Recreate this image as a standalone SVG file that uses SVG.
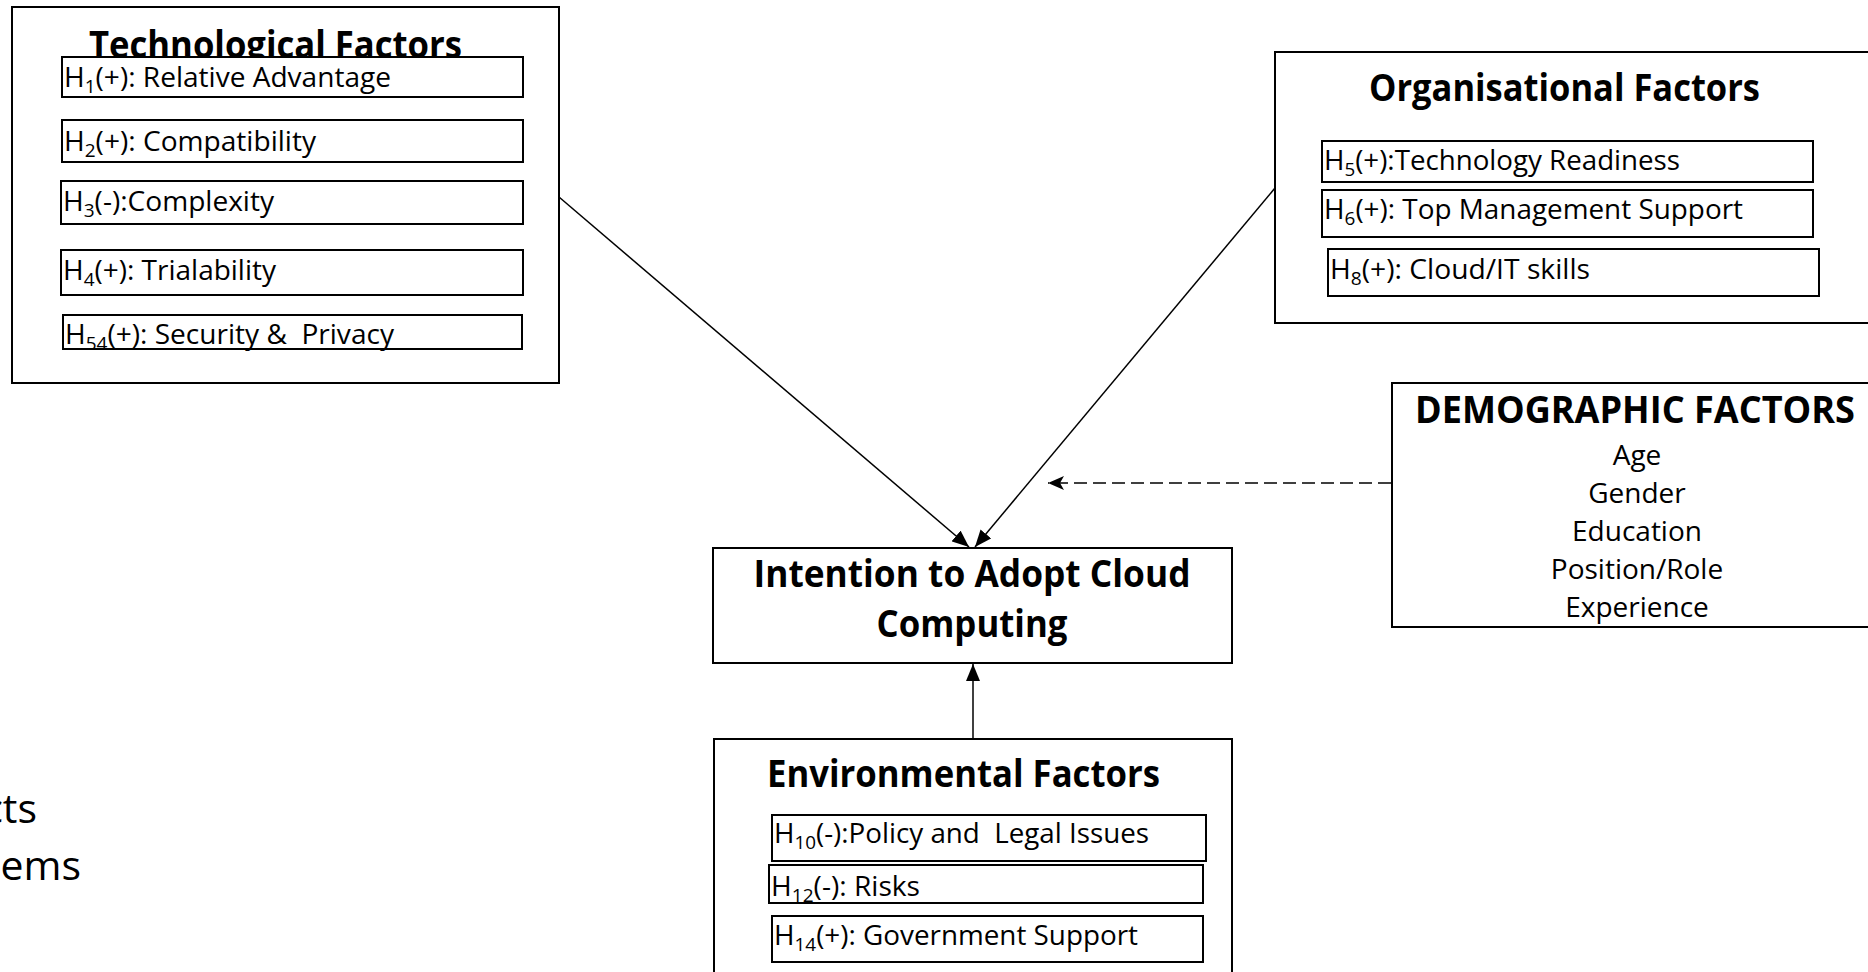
<svg xmlns="http://www.w3.org/2000/svg" width="1868" height="972" viewBox="0 0 1868 972">
  <defs>
    <style>
      .frame { fill: #ffffff; stroke: #000000; stroke-width: 2; }
      .item { fill: #ffffff; stroke: #000000; stroke-width: 2; }
      .title { font-family: "Open Sans", "Noto Sans", sans-serif; font-weight: 700; font-size: 38px; fill: #000000; }
      .label { font-family: "Open Sans", "Noto Sans", sans-serif; font-size: 28px; fill: #000000; }
      .big { font-family: "Open Sans", "Noto Sans", sans-serif; font-size: 41px; fill: #000000; }
      .sub { font-size: 19px; }
      .link { fill: none; stroke: #000000; stroke-width: 1.5; }
      .dashed { fill: none; stroke: #000000; stroke-width: 1.5; stroke-dasharray: 13 6; }
    </style>
    <marker id="arrow-solid" markerUnits="userSpaceOnUse" markerWidth="18" markerHeight="14" refX="17" refY="7" orient="auto">
      <path d="M0,0 L17,7 L0,14 Z" fill="#000000"/>
    </marker>
    <marker id="arrow-open" markerUnits="userSpaceOnUse" markerWidth="18" markerHeight="16" refX="16" refY="8" orient="auto">
      <path d="M0,1 L16,8 L0,15 L4,8 Z" fill="#000000"/>
    </marker>
  </defs>

  <rect width="1868" height="972" fill="#ffffff"/>

  <!-- partial slide text at the left margin -->
  <g id="margin-text">
    <text class="big" x="37" y="823" text-anchor="end">cts</text>
    <text class="big" x="81" y="880" text-anchor="end">ems</text>
  </g>

  <g id="connectors">
    <line class="link" x1="559" y1="197" x2="969" y2="547" marker-end="url(#arrow-solid)"/>
    <line class="link" x1="1275" y1="188" x2="975" y2="547" marker-end="url(#arrow-solid)"/>
    <line class="link" x1="973" y1="739" x2="973" y2="664" marker-end="url(#arrow-solid)"/>
    <line class="dashed" x1="1391" y1="483" x2="1048" y2="483" marker-end="url(#arrow-open)"/>
  </g>

  <g id="technological-factors">
    <rect class="frame" x="12" y="7" width="547" height="376"/>
    <text class="title" x="89" y="58" textLength="373" lengthAdjust="spacingAndGlyphs">Technological Factors</text>
    <rect class="item" x="62" y="57" width="461" height="40"/>
    <text class="label" x="64" y="87" textLength="327" lengthAdjust="spacingAndGlyphs">H<tspan class="sub" dy="6">1</tspan><tspan dy="-6">(+): Relative Advantage</tspan></text>
    <rect class="item" x="62" y="120" width="461" height="42"/>
    <text class="label" x="64" y="151" textLength="252" lengthAdjust="spacingAndGlyphs">H<tspan class="sub" dy="6">2</tspan><tspan dy="-6">(+): Compatibility</tspan></text>
    <rect class="item" x="61" y="181" width="462" height="43"/>
    <text class="label" x="63" y="211" textLength="211" lengthAdjust="spacingAndGlyphs">H<tspan class="sub" dy="6">3</tspan><tspan dy="-6">(-):Complexity</tspan></text>
    <rect class="item" x="61" y="250" width="462" height="45"/>
    <text class="label" x="63" y="280" textLength="213" lengthAdjust="spacingAndGlyphs">H<tspan class="sub" dy="6">4</tspan><tspan dy="-6">(+): Trialability</tspan></text>
    <rect class="item" x="63" y="315" width="459" height="34"/>
    <text class="label" x="65" y="344" textLength="329" lengthAdjust="spacingAndGlyphs" xml:space="preserve">H<tspan class="sub" dy="6">54</tspan><tspan dy="-6">(+): Security &amp;  Privacy</tspan></text>
  </g>

  <g id="organisational-factors">
    <rect class="frame" x="1275" y="52" width="600" height="271"/>
    <text class="title" x="1369" y="101" textLength="391" lengthAdjust="spacingAndGlyphs">Organisational Factors</text>
    <rect class="item" x="1322" y="141" width="491" height="41"/>
    <text class="label" x="1324" y="170" textLength="356" lengthAdjust="spacingAndGlyphs">H<tspan class="sub" dy="6">5</tspan><tspan dy="-6">(+):Technology Readiness</tspan></text>
    <rect class="item" x="1322" y="190" width="491" height="47"/>
    <text class="label" x="1324" y="219" textLength="419" lengthAdjust="spacingAndGlyphs">H<tspan class="sub" dy="6">6</tspan><tspan dy="-6">(+): Top Management Support</tspan></text>
    <rect class="item" x="1328" y="249" width="491" height="47"/>
    <text class="label" x="1330" y="279" textLength="260" lengthAdjust="spacingAndGlyphs">H<tspan class="sub" dy="6">8</tspan><tspan dy="-6">(+): Cloud/IT skills</tspan></text>
  </g>

  <g id="demographic-factors">
    <rect class="frame" x="1392" y="383" width="480" height="244"/>
    <text class="title" x="1635" y="423" text-anchor="middle" textLength="440" lengthAdjust="spacingAndGlyphs">DEMOGRAPHIC FACTORS</text>
    <text class="label" x="1637" y="465" text-anchor="middle">Age</text>
    <text class="label" x="1637" y="503" text-anchor="middle">Gender</text>
    <text class="label" x="1637" y="541" text-anchor="middle">Education</text>
    <text class="label" x="1637" y="579" text-anchor="middle">Position/Role</text>
    <text class="label" x="1637" y="617" text-anchor="middle">Experience</text>
  </g>

  <g id="intention-to-adopt">
    <rect class="frame" x="713" y="548" width="519" height="115"/>
    <text class="title" x="972" y="587" text-anchor="middle" textLength="437" lengthAdjust="spacingAndGlyphs">Intention to Adopt Cloud</text>
    <text class="title" x="972" y="637" text-anchor="middle" textLength="191" lengthAdjust="spacingAndGlyphs">Computing</text>
  </g>

  <g id="environmental-factors">
    <rect class="frame" x="714" y="739" width="518" height="240"/>
    <text class="title" x="767" y="787" textLength="393" lengthAdjust="spacingAndGlyphs">Environmental Factors</text>
    <rect class="item" x="772" y="815" width="434" height="46"/>
    <text class="label" x="774" y="843" textLength="375" lengthAdjust="spacingAndGlyphs" xml:space="preserve">H<tspan class="sub" dy="6">10</tspan><tspan dy="-6">(-):Policy and  Legal Issues</tspan></text>
    <rect class="item" x="769" y="865" width="434" height="38"/>
    <text class="label" x="771" y="896" textLength="149" lengthAdjust="spacingAndGlyphs">H<tspan class="sub" dy="6">12</tspan><tspan dy="-6">(-): Risks</tspan></text>
    <rect class="item" x="772" y="916" width="431" height="46"/>
    <text class="label" x="774" y="945" textLength="364" lengthAdjust="spacingAndGlyphs">H<tspan class="sub" dy="6">14</tspan><tspan dy="-6">(+): Government Support</tspan></text>
  </g>
</svg>
